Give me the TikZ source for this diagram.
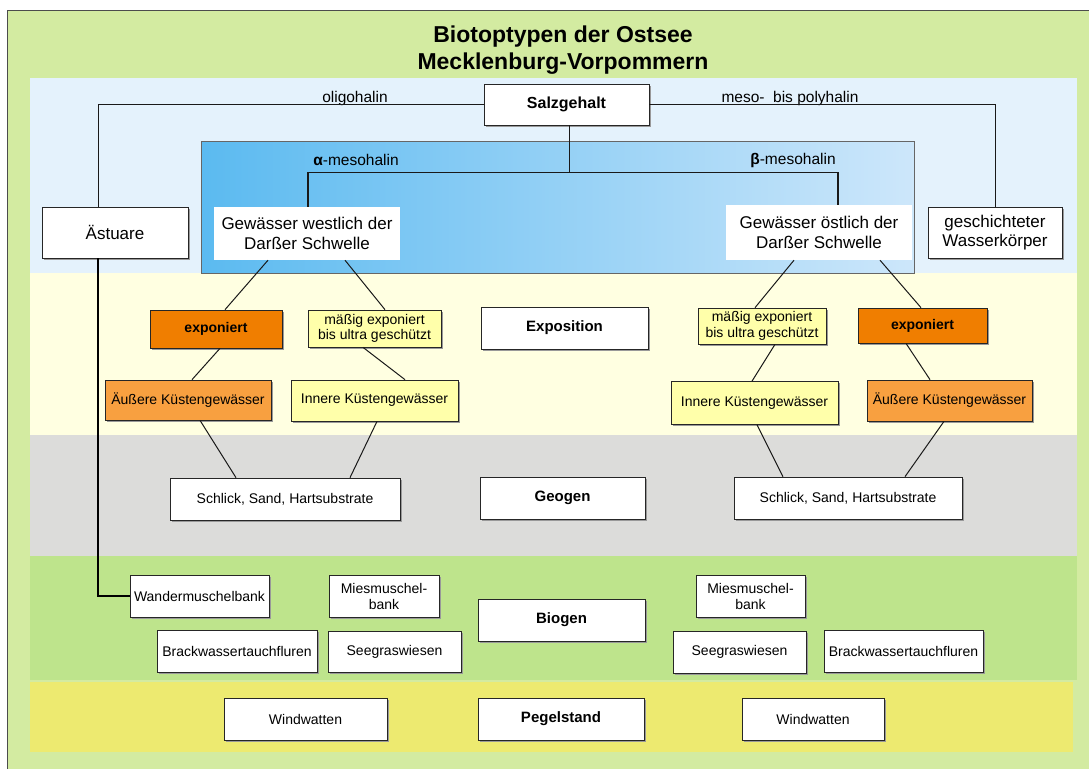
\documentclass[tikz,border=0pt]{standalone}
\usepackage{fontspec}
\setmainfont{Liberation Sans}
\usetikzlibrary{shadows}
\definecolor{FrameGreen}{HTML}{D3EBA1}
\definecolor{BandBlue}{HTML}{E4F2FC}
\definecolor{BandCream}{HTML}{FFFFE1}
\definecolor{BandGray}{HTML}{DCDCDA}
\definecolor{BandGreen}{HTML}{BEE48C}
\definecolor{BandYellow}{HTML}{EDEA70}
\definecolor{SeaDeep}{HTML}{5BBAF0}
\definecolor{SeaPale}{HTML}{D3E9FB}
\definecolor{ExpOrange}{HTML}{F07E00}
\definecolor{CoastOrange}{HTML}{F8A040}
\definecolor{PaleYellow}{HTML}{FFFFAA}

\begin{document}
\begin{tikzpicture}[x=1pt,y=-1pt,
    wh/.style 2 args={minimum width=#1pt,minimum height=#2pt},
    box/.style={draw=black!85,fill=white,line width=0.7pt,inner sep=1pt,align=center,
      font=\fontsize{14}{16}\selectfont,
      drop shadow={shadow xshift=1.5pt,shadow yshift=-1.5pt,fill=black!40,opacity=1}},
    head/.style={box,font=\bfseries\fontsize{15}{17}\selectfont},
    water/.style={fill=white,inner sep=1pt,align=center,font=\fontsize{17}{20}\selectfont},
    expo/.style={box,fill=ExpOrange,font=\bfseries\fontsize{14}{16}\selectfont},
    calm/.style={box,fill=PaleYellow,font=\fontsize{14}{15.5}\selectfont},
    coast/.style={box,fill=CoastOrange},
    lab/.style={inner sep=0pt,font=\fontsize{15.5}{17}\selectfont},
    link/.style={draw=black!90,line width=1pt}
  ]
  \useasboundingbox (0,0) rectangle (1089,769);
  % background and bands
  \fill[FrameGreen] (7,10) rectangle (1089,769);
  \draw[black!70,line width=1pt] (7,769) -- (7,10) -- (1089,10);
  \fill[BandBlue] (30,78) rectangle (1077,273);
  \fill[BandCream] (30,273) rectangle (1077,435);
  \fill[BandGray] (30,435) rectangle (1077,556);
  \fill[BandGreen] (30,556) rectangle (1077,680);
  \fill[BandYellow] (30,682) rectangle (1073,752);
  \draw[black!60,line width=0.8pt,left color=SeaDeep,middle color=SeaPale,right color=SeaPale!95!SeaDeep]
    (201,141) rectangle (914,273);

  \node[align=center,font=\bfseries\fontsize{23}{27}\selectfont] (title) at (563,50)
    {Biotoptypen der Ostsee\\Mecklenburg-Vorpommern};

  % Salzgehalt
  \node[head,wh={165}{41},font=\bfseries\fontsize{16}{18}\selectfont] (salz) at (566.5,104.5) {Salzgehalt};
  \node[box,wh={146}{51},font=\fontsize{17}{20}\selectfont] (aest) at (115,232.5) {Ästuare};
  \node[water,wh={186}{53}] (west) at (307,233.5) {Gewässer westlich der\\Darßer Schwelle};
  \node[water,wh={186}{55}] (ost) at (819,232.5) {Gewässer östlich der\\Darßer Schwelle};
  \node[box,wh={134}{51},font=\fontsize{17}{19}\selectfont] (schicht) at (995,232.5) {geschichteter\\Wasserkörper};
  \node[lab] (oligo) at (355,98) {oligohalin};
  \node[lab] (poly) at (790,98) {meso-\ \ bis polyhalin};
  \node[lab] (alpha) at (356,160) {{\bfseries α}-mesohalin};
  \node[lab] (beta) at (793,160) {{\bfseries β}-mesohalin};

  % Exposition
  \node[expo,wh={132}{38}] (expL) at (216,329) {exponiert};
  \node[calm,wh={133}{37}] (maesL) at (374.5,328.5) {mäßig exponiert\\bis ultra geschützt};
  \node[head,wh={167}{42}] (expo) at (564.5,328) {Exposition};
  \node[calm,wh={128}{36}] (maesR) at (762,326) {mäßig exponiert\\bis ultra geschützt};
  \node[expo,wh={129}{35}] (expR) at (922.5,325.5) {exponiert};
  \node[coast,wh={166}{40}] (aussL) at (188,400) {Äußere Küstengewässer};
  \node[calm,wh={167}{41}] (innL) at (374.5,400.5) {Innere Küstengewässer};
  \node[calm,wh={167}{43}] (innR) at (754.5,403) {Innere Küstengewässer};
  \node[coast,wh={165}{41}] (aussR) at (949.5,400.5) {Äußere Küstengewässer};

  % Geogen
  \node[box,wh={230}{42}] (schlL) at (285,499) {Schlick, Sand, Hartsubstrate};
  \node[head,wh={165}{42}] (geogen) at (562.5,498) {Geogen};
  \node[box,wh={228}{42}] (schlR) at (848,498) {Schlick, Sand, Hartsubstrate};

  % Biogen
  \node[box,wh={139}{42}] (wander) at (199.5,596) {Wandermuschelbank};
  \node[box,wh={110}{42}] (miesL) at (384,596) {Miesmuschel-\\bank};
  \node[head,wh={167}{42}] (biogen) at (561.5,620) {Biogen};
  \node[box,wh={109}{42}] (miesR) at (750.5,596) {Miesmuschel-\\bank};
  \node[box,wh={160}{42}] (brackL) at (237,651) {Brackwassertauchfluren};
  \node[box,wh={133}{41}] (seeL) at (394.5,651.5) {Seegraswiesen};
  \node[box,wh={133}{42}] (seeR) at (739.5,652) {Seegraswiesen};
  \node[box,wh={159}{42}] (brackR) at (903.5,651) {Brackwassertauchfluren};

  % Pegelstand
  \node[box,wh={163}{42}] (wwL) at (305.5,719) {Windwatten};
  \node[head,wh={166}{42}] (pegel) at (561,719) {Pegelstand};
  \node[box,wh={142}{42}] (wwR) at (813,719) {Windwatten};

  % connectors
  \coordinate (split) at (569,172.5);
  \draw[link] (salz.west) -| ([xshift=-17pt]aest.north);
  \draw[link] (salz.east) -| (schicht.north);
  \draw[link] ([xshift=2.5pt]salz.south) -- (split);
  \draw[link,line width=1.2pt] ([xshift=1pt]west.north) |- (split);
  \draw[link,line width=1.2pt] (split) -| ([xshift=19pt]ost.north);
  \draw[link,line width=1.4pt,black] ([xshift=-17pt]aest.south) |- (wander.west);

  \draw[link] ([xshift=-39pt]west.south) -- ([xshift=9pt]expL.north);
  \draw[link] ([xshift=38pt]west.south) -- ([xshift=10.5pt]maesL.north);
  \draw[link] ([xshift=4pt]expL.south) -- ([xshift=4pt]aussL.north);
  \draw[link] ([xshift=-11.5pt]maesL.south) -- ([xshift=30.5pt]innL.north);
  \draw[link] ([xshift=12pt]aussL.south) -- ([xshift=-49pt]schlL.north);
  \draw[link] ([xshift=2.5pt]innL.south) -- ([xshift=65pt]schlL.north);

  \draw[link] ([xshift=-25pt]ost.south) -- ([xshift=-7pt]maesR.north);
  \draw[link] ([xshift=61pt]ost.south) -- ([xshift=-1.5pt]expR.north);
  \draw[link] ([xshift=13pt]maesR.south) -- ([xshift=-2.5pt]innR.north);
  \draw[link] ([xshift=-16.5pt]expR.south) -- ([xshift=-19.5pt]aussR.north);
  \draw[link] ([xshift=2.5pt]innR.south) -- ([xshift=-65pt]schlR.north);
  \draw[link] ([xshift=-5.5pt]aussR.south) -- ([xshift=57pt]schlR.north);
\end{tikzpicture}
\end{document}
